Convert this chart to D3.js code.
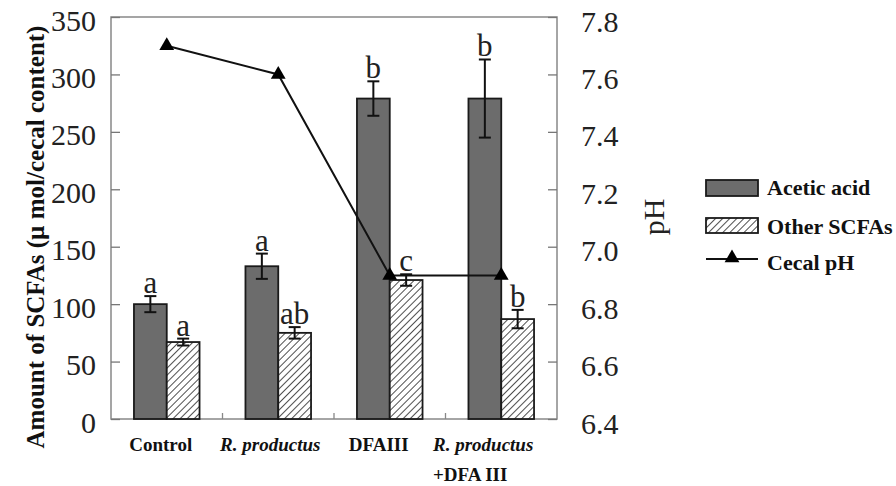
<!DOCTYPE html>
<html>
<head>
<meta charset="utf-8">
<script src="https://cdn.jsdelivr.net/npm/d3@7"></script>
<style>
  body { margin: 0; background: #fff; }
  svg { display: block; font-family: "Liberation Serif", "Times New Roman", serif; }
</style>
</head>
<body>
<svg id="chart" width="896" height="486"></svg>
<script>
//data
const groups = ['Control', 'R. productus', 'DFAIII', 'R. productus +DFA III'];
const acetic = [100, 133, 279, 279];
const aceticErr = [7, 11, 15, 34];
const aceticSig = ['a', 'a', 'b', 'b'];
const otherScfa = [67, 75, 121, 87];
const otherErr = [3, 5, 5, 8];
const otherSig = ['a', 'ab', 'c', 'b'];
const cecalPH = [7.7, 7.6, 6.9, 6.9];
const leftTicks = [0, 50, 100, 150, 200, 250, 300, 350];
const rightTicks = [6.4, 6.6, 6.8, 7.0, 7.2, 7.4, 7.6, 7.8];
const series = ['Acetic acid', 'Other SCFAs'];

//layout
const L = 111, R = 557, T = 17, B = 419;
const svg = d3.select('#chart');

const defs = svg.append('defs');
const pat = defs.append('pattern')
  .attr('id', 'hatch')
  .attr('patternUnits', 'userSpaceOnUse')
  .attr('width', 5).attr('height', 5)
  .attr('patternTransform', 'rotate(45)');
pat.append('rect').attr('width', 5).attr('height', 5).attr('fill', '#fff');
pat.append('line')
  .attr('x1', 0).attr('y1', 0).attr('x2', 0).attr('y2', 5)
  .attr('stroke', '#222').attr('stroke-width', 1.6);

const x0 = d3.scaleBand().domain(groups).range([L, R]).padding(0);
const x1 = d3.scaleBand().domain(series).range([0, x0.bandwidth()]).paddingInner(0).paddingOuter(0.7);
const y = d3.scaleLinear().domain([0, 350]).range([B, T]);
const yPH = d3.scaleLinear().domain([6.4, 7.8]).range([B, T]);

// frame
svg.append('rect')
  .attr('x', L).attr('y', T).attr('width', R - L).attr('height', B - T)
  .attr('fill', 'none').attr('stroke', '#888').attr('stroke-width', 1.5);

// left axis
const leftAxis = svg.append('g')
  .attr('transform', `translate(${L},0)`)
  .call(d3.axisRight(y).tickValues(leftTicks).tickSize(9).tickFormat(''));
leftAxis.select('.domain').remove();
leftAxis.selectAll('line').attr('stroke', '#777').attr('stroke-width', 1.3);
svg.append('g').selectAll('text')
  .data(leftTicks).join('text')
  .attr('x', 96).attr('y', d => y(d) + 3)
  .attr('dy', '0.35em')
  .attr('text-anchor', 'end')
  .attr('font-size', 30)
  .attr('fill', '#222')
  .text(d => d);

// right axis
const rightAxis = svg.append('g')
  .attr('transform', `translate(${R},0)`)
  .call(d3.axisLeft(yPH).tickValues(rightTicks).tickSize(9).tickFormat(''));
rightAxis.select('.domain').remove();
rightAxis.selectAll('line').attr('stroke', '#777').attr('stroke-width', 1.3);
svg.append('g').selectAll('text')
  .data(rightTicks).join('text')
  .attr('x', 581).attr('y', d => yPH(d) + 4)
  .attr('dy', '0.35em')
  .attr('font-size', 30)
  .attr('fill', '#222')
  .text(d => d.toFixed(1));

// x ticks between groups
svg.append('g').selectAll('line')
  .data(groups.slice(1)).join('line')
  .attr('x1', d => x0(d)).attr('x2', d => x0(d))
  .attr('y1', B).attr('y2', B - 6)
  .attr('stroke', '#888').attr('stroke-width', 1.3);

// bars
const barData = [];
groups.forEach((g, i) => {
  barData.push({ g, s: series[0], v: acetic[i], e: aceticErr[i], sig: aceticSig[i] });
  barData.push({ g, s: series[1], v: otherScfa[i], e: otherErr[i], sig: otherSig[i] });
});

const bars = svg.append('g').selectAll('g')
  .data(barData).join('g')
  .attr('transform', d => `translate(${x0(d.g) + x1(d.s)},0)`);

bars.append('rect')
  .attr('x', 0).attr('y', d => y(d.v))
  .attr('width', x1.bandwidth()).attr('height', d => B - y(d.v))
  .attr('fill', d => d.s === series[0] ? '#6c6c6c' : 'url(#hatch)')
  .attr('stroke', '#1a1a1a').attr('stroke-width', 1.8);

// error bars
const bw = x1.bandwidth();
bars.append('line')
  .attr('x1', bw / 2).attr('x2', bw / 2)
  .attr('y1', d => y(d.v - d.e)).attr('y2', d => y(d.v + d.e))
  .attr('stroke', '#111').attr('stroke-width', 2);
bars.each(function(d) {
  const sel = d3.select(this);
  [d.v - d.e, d.v + d.e].forEach(val => {
    sel.append('line')
      .attr('x1', bw / 2 - 6).attr('x2', bw / 2 + 6)
      .attr('y1', y(val)).attr('y2', y(val))
      .attr('stroke', '#111').attr('stroke-width', 2);
  });
});

// significance letters
bars.append('text')
  .attr('x', bw / 2).attr('y', d => y(d.v + d.e) - 3)
  .attr('text-anchor', 'middle')
  .attr('font-size', 31)
  .attr('fill', '#222')
  .text(d => d.sig);

// cecal pH line
const line = d3.line()
  .x((d, i) => x0(groups[i]) + x0.bandwidth() / 2)
  .y(d => yPH(d));
svg.append('path')
  .datum(cecalPH)
  .attr('d', line)
  .attr('fill', 'none').attr('stroke', '#111').attr('stroke-width', 2);

const tri = d3.symbol().type(d3.symbolTriangle).size(95);
svg.append('g').selectAll('path')
  .data(cecalPH).join('path')
  .attr('d', tri)
  .attr('transform', (d, i) => `translate(${x0(groups[i]) + x0.bandwidth() / 2},${yPH(d)})`)
  .attr('fill', '#000');

// x labels
const xl = svg.append('g').attr('font-weight', 'bold').attr('font-size', 19).attr('fill', '#111');
xl.append('text').attr('x', x0(groups[0]) + x0.bandwidth() / 2 - 6).attr('y', 451)
  .attr('text-anchor', 'middle').text('Control');
xl.append('text').attr('x', x0(groups[1]) + x0.bandwidth() / 2 - 8).attr('y', 451)
  .attr('text-anchor', 'middle').attr('font-style', 'italic').text('R. productus');
xl.append('text').attr('x', x0(groups[2]) + x0.bandwidth() / 2 - 11).attr('y', 451)
  .attr('text-anchor', 'middle').text('DFAIII');
xl.append('text').attr('x', 433).attr('y', 451)
  .attr('font-style', 'italic').text('R. productus');
xl.append('text').attr('x', 433).attr('y', 481)
  .text('+DFA III');

// axis titles
svg.append('text')
  .attr('transform', 'translate(44,237) rotate(-90)')
  .attr('text-anchor', 'middle')
  .attr('font-weight', 'bold')
  .attr('font-size', 25)
  .attr('fill', '#111')
  .text('Amount of SCFAs (\u00b5 mol/cecal content)');

svg.append('text')
  .attr('transform', 'translate(664,217) rotate(-90)')
  .attr('text-anchor', 'middle')
  .attr('font-size', 30)
  .attr('fill', '#222')
  .text('pH');

// legend
const lg = svg.append('g');
lg.append('rect').attr('x', 706).attr('y', 180).attr('width', 52).attr('height', 16)
  .attr('fill', '#6c6c6c').attr('stroke', '#1a1a1a').attr('stroke-width', 1.8);
lg.append('rect').attr('x', 706).attr('y', 218).attr('width', 52).attr('height', 15)
  .attr('fill', 'url(#hatch)').attr('stroke', '#1a1a1a').attr('stroke-width', 1.8);
lg.append('line').attr('x1', 706).attr('x2', 758).attr('y1', 259).attr('y2', 259)
  .attr('stroke', '#111').attr('stroke-width', 2);
lg.append('path').attr('d', tri).attr('transform', 'translate(732,258)').attr('fill', '#000');
const lt = lg.append('g').attr('font-weight', 'bold').attr('font-size', 22).attr('fill', '#111');
lt.append('text').attr('x', 767).attr('y', 195).text('Acetic acid');
lt.append('text').attr('x', 767).attr('y', 234).text('Other SCFAs');
lt.append('text').attr('x', 767).attr('y', 270).text('Cecal pH');
</script>
</body>
</html>
